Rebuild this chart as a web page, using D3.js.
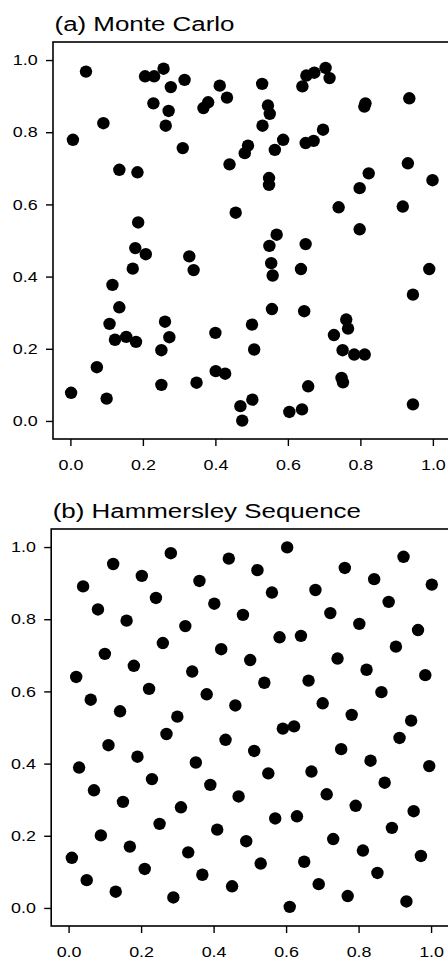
<!DOCTYPE html>
<html>
<head>
<meta charset="utf-8">
<script src="https://cdn.jsdelivr.net/npm/d3@7"></script>
<style>
body { margin: 0; background: #fff; }
svg text { font-family: "Liberation Sans", Arial, Helvetica, sans-serif; fill: #000; }
.frame { fill: none; stroke: #000; stroke-width: 1.6px; }
.dot { fill: #000; }
.axis path { display: none; }
.axis line { stroke: #000; stroke-width: 1.4px; }
.axis text { font-size: 14.5px; }
.title { font-size: 21px; }
</style>
</head>
<body>
<div id="chart"></div>
<script>
var width = 448, height = 961;
var stretch = 1.235;   // the lettering in the scan is wider than Helvetica

var ticks = [0, 0.2, 0.4, 0.6, 0.8, 1.0];
var titles = ["(a) Monte Carlo", "(b) Hammersley Sequence"];

// (a) random points
var mcX = [0.043, 0.007, 0.091, 0.206, 0.231, 0.257, 0.277, 0.315, 0.229, 0.271,
           0.263, 0.310, 0.135, 0.185, 0.412, 0.367, 0.380, 0.432, 0.439, 0.481,
           0.490, 0.529, 0.545, 0.550, 0.530, 0.587, 0.564, 0.548, 0.548, 0.456,
           0.640, 0.651, 0.673, 0.704, 0.715, 0.649, 0.671, 0.697, 0.814, 0.811,
           0.935, 0.931, 0.823, 0.798, 0.999, 0.740, 0.917, 0.798, 0.187, 0.179,
           0.208, 0.172, 0.328, 0.340, 0.116, 0.135, 0.108, 0.123, 0.154, 0.181,
           0.073, 0.002, 0.100, 0.251, 0.261, 0.273, 0.251, 0.348, 0.400, 0.401,
           0.427, 0.469, 0.474, 0.502, 0.501, 0.507, 0.549, 0.569, 0.554, 0.558,
           0.556, 0.649, 0.636, 0.645, 0.656, 0.604, 0.639, 0.990, 0.945, 0.727,
           0.761, 0.766, 0.751, 0.783, 0.812, 0.748, 0.752, 0.945];
var mcY = [0.968, 0.779, 0.825, 0.955, 0.955, 0.976, 0.925, 0.945, 0.880, 0.859,
           0.818, 0.756, 0.696, 0.689, 0.929, 0.867, 0.883, 0.896, 0.711, 0.742,
           0.763, 0.934, 0.874, 0.851, 0.818, 0.779, 0.751, 0.673, 0.654, 0.577,
           0.927, 0.957, 0.965, 0.978, 0.950, 0.770, 0.776, 0.807, 0.880, 0.871,
           0.894, 0.714, 0.686, 0.645, 0.667, 0.592, 0.594, 0.531, 0.550, 0.479,
           0.462, 0.422, 0.456, 0.418, 0.377, 0.315, 0.269, 0.225, 0.233, 0.219,
           0.149, 0.078, 0.062, 0.196, 0.275, 0.232, 0.100, 0.106, 0.244, 0.138,
           0.131, 0.041, 0.001, 0.059, 0.267, 0.198, 0.485, 0.516, 0.437, 0.403,
           0.310, 0.490, 0.421, 0.304, 0.096, 0.025, 0.032, 0.421, 0.350, 0.238,
           0.281, 0.256, 0.196, 0.184, 0.184, 0.119, 0.107, 0.046];

// (b) Hammersley points
var hsX = [0.040, 0.123, 0.081, 0.202, 0.282, 0.241, 0.160, 0.100, 0.021, 0.061,
           0.180, 0.222, 0.260, 0.322, 0.361, 0.442, 0.402, 0.341, 0.381, 0.421,
           0.481, 0.521, 0.501, 0.561, 0.603, 0.582, 0.540, 0.460, 0.681, 0.641,
           0.722, 0.762, 0.662, 0.742, 0.701, 0.802, 0.843, 0.883, 0.924, 0.822,
           0.903, 0.964, 1.002, 0.984, 0.863, 0.142, 0.300, 0.781, 0.945, 0.913,
           0.591, 0.622, 0.270, 0.433, 0.110, 0.512, 0.752, 0.833, 0.995, 0.029,
           0.190, 0.351, 0.230, 0.551, 0.670, 0.872, 0.391, 0.070, 0.712, 0.469,
           0.150, 0.792, 0.310, 0.952, 0.570, 0.630, 0.251, 0.892, 0.410, 0.089,
           0.730, 0.490, 0.169, 0.812, 0.330, 0.972, 0.009, 0.650, 0.530, 0.210,
           0.852, 0.369, 0.050, 0.690, 0.451, 0.130, 0.770, 0.289, 0.932, 0.610];
var hsY = [0.891, 0.953, 0.827, 0.920, 0.983, 0.859, 0.796, 0.704, 0.640, 0.577,
           0.671, 0.607, 0.734, 0.781, 0.906, 0.968, 0.843, 0.655, 0.592, 0.717,
           0.812, 0.936, 0.687, 0.874, 0.999, 0.750, 0.624, 0.561, 0.881, 0.754,
           0.817, 0.942, 0.630, 0.691, 0.567, 0.787, 0.911, 0.848, 0.973, 0.660,
           0.724, 0.770, 0.896, 0.645, 0.598, 0.545, 0.530, 0.535, 0.519, 0.471,
           0.497, 0.503, 0.482, 0.466, 0.451, 0.435, 0.440, 0.408, 0.393, 0.389,
           0.419, 0.403, 0.357, 0.373, 0.378, 0.347, 0.341, 0.326, 0.315, 0.309,
           0.294, 0.283, 0.279, 0.268, 0.248, 0.254, 0.233, 0.222, 0.217, 0.201,
           0.191, 0.185, 0.170, 0.159, 0.154, 0.144, 0.139, 0.128, 0.123, 0.108,
           0.097, 0.092, 0.077, 0.066, 0.060, 0.045, 0.033, 0.029, 0.018, 0.003];

var panels = [
  { title: titles[0], xs: mcX, ys: mcY, left: 53, top: 42 },
  { title: titles[1], xs: hsX, ys: hsY, left: 51.2, top: 529 }
];
var boxW = 398, boxH = 397;   // frame runs off the right edge like the scan

var svg = d3.select("#chart").append("svg")
    .attr("width", width)
    .attr("height", height);

panels.forEach(function(p) {
  var x = d3.scaleLinear()
      .domain([-0.048, 1.05])
      .range([p.left, p.left + boxW]);
  var y = d3.scaleLinear()
      .domain([-0.05, 1.05])
      .range([p.top + boxH, p.top]);

  var g = svg.append("g");

  // title
  g.append("text")
      .attr("class", "title")
      .attr("transform", "translate(" + (p.left + 1.5) + "," + (p.top - 11.5) + ") scale(" + stretch + ",1)")
      .text(p.title);

  // axes
  var xAxis = g.append("g")
      .attr("class", "axis")
      .attr("transform", "translate(0," + (p.top + boxH) + ")")
      .call(d3.axisBottom(x)
        .tickValues(ticks)
        .tickSize(7)
        .tickPadding(13.5)
        .tickFormat(d3.format(".1f")));
  xAxis.selectAll("text").attr("transform", "scale(" + stretch + ",1)");

  var yAxis = g.append("g")
      .attr("class", "axis")
      .attr("transform", "translate(" + p.left + ",0)")
      .call(d3.axisLeft(y)
        .tickValues(ticks)
        .tickSize(7)
        .tickFormat(d3.format(".1f")));
  yAxis.selectAll("text")
      .attr("x", -15.3 / stretch)
      .attr("transform", "scale(" + stretch + ",1)");

  // points
  g.selectAll(".dot")
    .data(d3.range(p.xs.length))
    .enter().append("circle")
      .attr("class", "dot")
      .attr("cx", function(i) { return x(p.xs[i]); })
      .attr("cy", function(i) { return y(p.ys[i]); })
      .attr("r", 6.2);

  g.append("rect")
      .attr("class", "frame")
      .attr("x", p.left)
      .attr("y", p.top)
      .attr("width", boxW)
      .attr("height", boxH);
});
</script>
</body>
</html>
